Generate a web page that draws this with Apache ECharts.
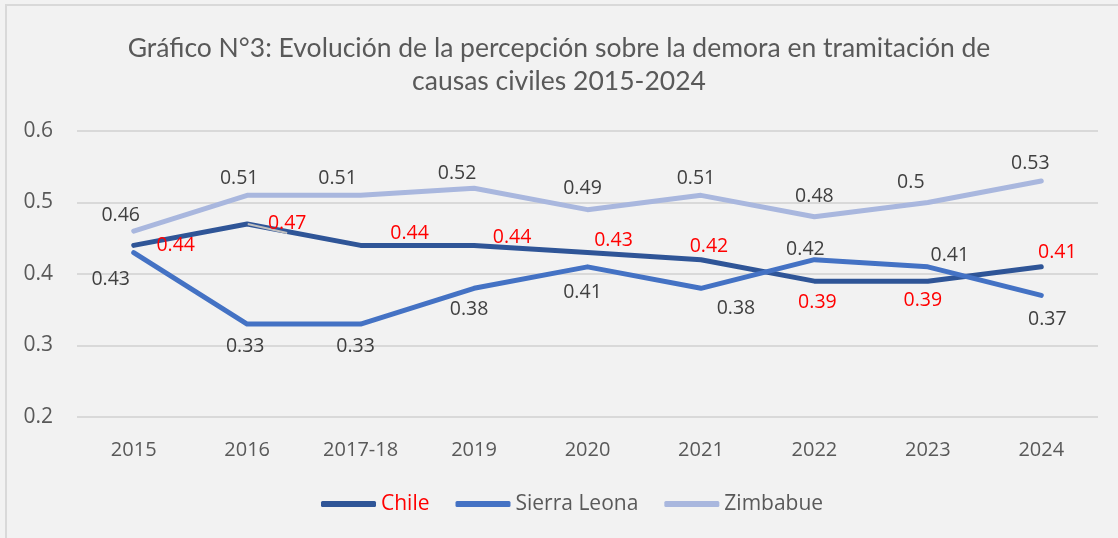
<!DOCTYPE html>
<html>
<head>
<meta charset="utf-8">
<script src="https://cdn.jsdelivr.net/npm/echarts@6/dist/echarts.min.js"></script>
<style>
  html, body { margin: 0; padding: 0; background: #f2f2f2; overflow: hidden; }
  #frame { position: absolute; left: 5px; top: 4px; width: 1200px; height: 600px; border-top: 2px solid #d9d9d9; border-left: 2px solid #d9d9d9; box-sizing: border-box; }
  #chart { position: absolute; left: 0; top: 0; width: 1118px; height: 538px; }
</style>
</head>
<body>
<div id="frame"></div>
<div id="chart"></div>
<script>
const titleText = 'Gráfico N°3: Evolución de la percepción sobre la demora en tramitación de\ncausas civiles 2015-2024';
const categories = ['2015', '2016', '2017-18', '2019', '2020', '2021', '2022', '2023', '2024'];
const seriesNames = ['Chile', 'Sierra Leona', 'Zimbabue'];
const chileValues = [0.44, 0.47, 0.44, 0.44, 0.43, 0.42, 0.39, 0.39, 0.41];
const sierraLeonaValues = [0.43, 0.33, 0.33, 0.38, 0.41, 0.38, 0.42, 0.41, 0.37];
const zimbabueValues = [0.46, 0.51, 0.51, 0.52, 0.49, 0.51, 0.48, 0.5, 0.53];
const yTicks = [0.2, 0.3, 0.4, 0.5, 0.6];

// label offsets relative to each point (style only)
const chileLabelOffset = [[42,0],[40,-1],[49,-12],[38,-8],[26,-12],[8,-13],[3,21],[-5,19],[16,-14]];
const sierraLabelOffset = [[-23,27],[-2,22],[-5,22],[-5,21],[-5,26],[35,20],[-9,-10],[22,-11],[6,24]];
const zimLabelOffset = [[-13,-16],[-8,-17],[-23,-17],[-17,-15],[-5,-21],[-5,-17],[0,-20],[-17,-20],[-11,-18]];

const colors = ['#2f5597', '#4472c4', '#a9b7de'];
const labelFont = 'Open Sans';

function buildData(values, offsets) {
  return values.map((v, i) => ({
    value: v,
    label: { offset: offsets[i] }
  }));
}

function makeSeries(name, values, offsets, color, labelColor) {
  return {
    name: name,
    type: 'line',
    data: buildData(values, offsets),
    symbol: 'circle',
    symbolSize: 1,
    showSymbol: true,
    itemStyle: { color: color },
    lineStyle: { color: color, width: 5, cap: 'round', join: 'round' },
    label: {
      show: true,
      position: 'inside',
      color: labelColor,
      fontFamily: labelFont,
      fontSize: 19.5
    },
    emphasis: { disabled: true },
    animation: false
  };
}

const chart = echarts.init(document.getElementById('chart'), null, { renderer: 'canvas' });

const sChile = makeSeries(seriesNames[0], chileValues, chileLabelOffset, colors[0], '#ff0000');
sChile.data[1].labelLine = { show: true, length2: 0, lineStyle: { color: '#bfbfbf', width: 2 } };

const option = {
  backgroundColor: 'transparent',
  title: {
    text: titleText,
    left: 'center',
    top: 27,
    textStyle: {
      fontFamily: 'Lato',
      fontWeight: 'normal',
      fontSize: 26.5,
      lineHeight: 33,
      color: '#595959'
    }
  },
  legend: {
    data: [
      { name: 'Chile', textStyle: { color: '#ff0000' } },
      { name: 'Sierra Leona' },
      { name: 'Zimbabue' }
    ],
    top: 486,
    left: 316,
    icon: 'roundRect',
    itemWidth: 55,
    itemHeight: 6,
    itemGap: 26,
    textStyle: { fontFamily: labelFont, fontSize: 21, lineHeight: 26, color: '#595959' }
  },
  grid: { left: 77, right: 20, top: 131, bottom: 121, containLabel: false },
  xAxis: {
    type: 'category',
    data: categories,
    boundaryGap: true,
    axisLine: { show: false },
    axisTick: { show: false },
    axisLabel: { margin: 23, fontFamily: labelFont, fontSize: 20, color: '#595959' }
  },
  yAxis: {
    type: 'value',
    min: yTicks[0],
    max: yTicks[yTicks.length - 1],
    interval: 0.1,
    axisLine: { show: false },
    axisTick: { show: false },
    axisLabel: { margin: 24, fontFamily: labelFont, fontSize: 21, color: '#595959',
      formatter: v => String(Math.round(v * 10) / 10) },
    splitLine: { lineStyle: { color: '#d9d9d9', width: 2 } }
  },
  series: [
    sChile,
    makeSeries(seriesNames[1], sierraLeonaValues, sierraLabelOffset, colors[1], '#404040'),
    makeSeries(seriesNames[2], zimbabueValues, zimLabelOffset, colors[2], '#404040')
  ]
};
chart.setOption(option);
</script>
</body>
</html>
